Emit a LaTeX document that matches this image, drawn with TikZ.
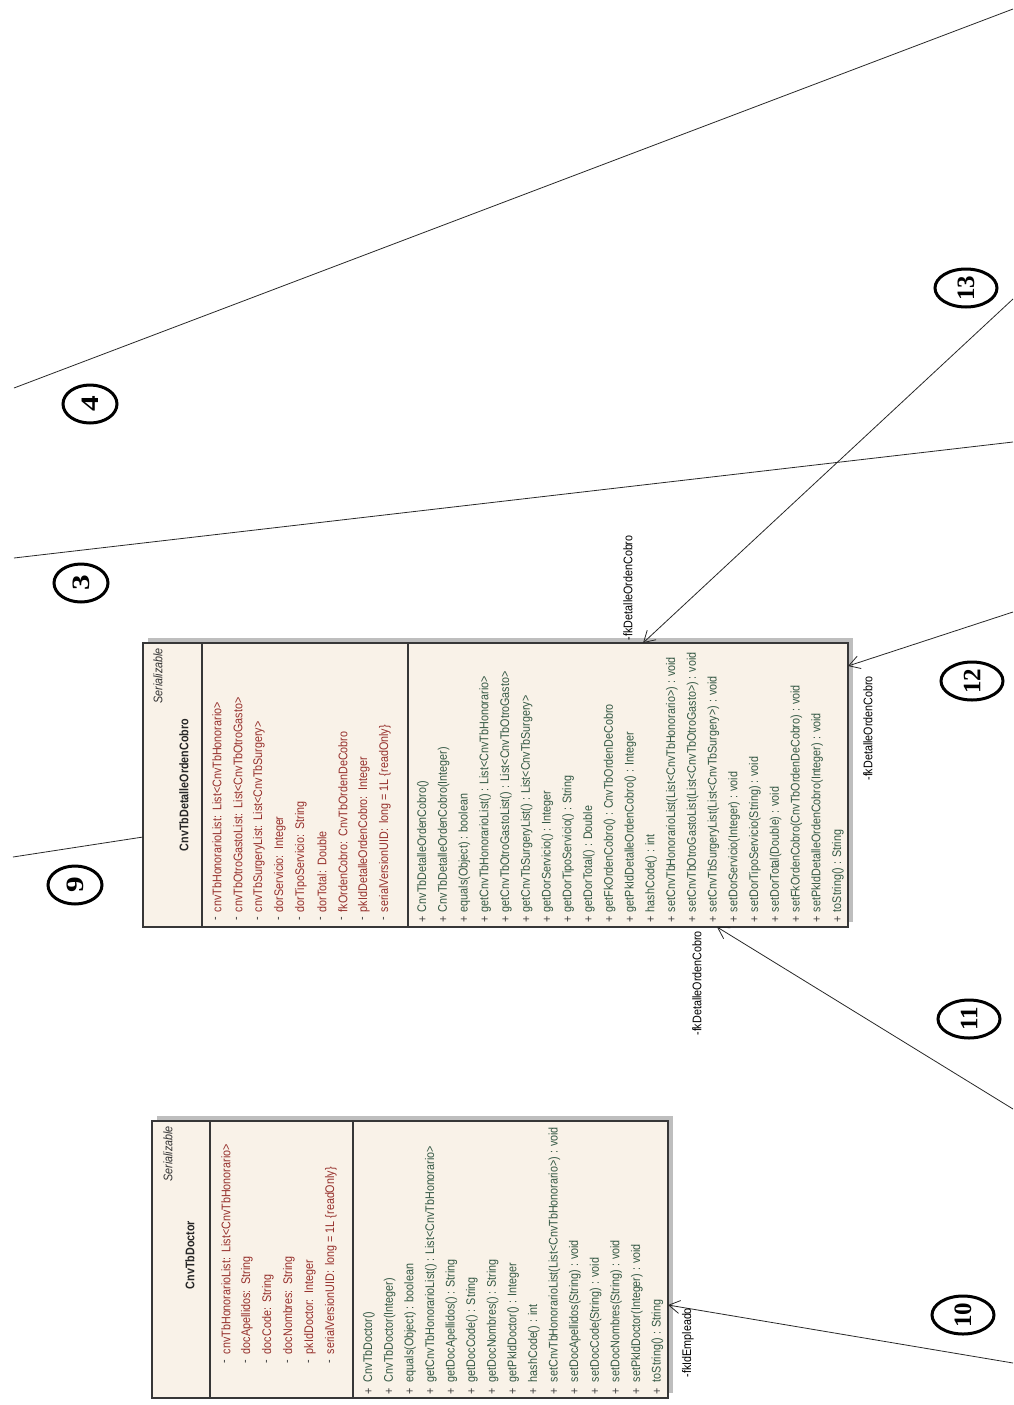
\documentclass[tikz,border=0pt]{standalone}
\usepackage{fontspec}
\setmainfont{Liberation Sans}
\newfontfamily\digitfont{Liberation Serif}
\usetikzlibrary{arrows.meta,calc,shapes.geometric}
\definecolor{boxfill}{RGB}{249,242,232}
\definecolor{attrcol}{RGB}{150,48,44}
\definecolor{methcol}{RGB}{52,88,68}
\definecolor{edgecol}{RGB}{55,55,55}
\definecolor{shadowcol}{RGB}{190,190,190}
\definecolor{linecol}{RGB}{40,40,40}
\tikzset{
  classbox/.style={draw=edgecol, line width=1.3pt, fill=boxfill, inner sep=0pt, outer sep=0pt},
  sepline/.style={draw=edgecol, line width=1.3pt},
  vtext/.style={rotate=90, xscale=0.86, inner sep=0pt, outer sep=0pt, font=\fontsize{12.5}{14}\selectfont},
  attr/.style={vtext, anchor=west, text=attrcol},
  meth/.style={vtext, anchor=west, text=methcol},
  vismark/.style={vtext, anchor=center, text=black!75},
  cname/.style={vtext, anchor=center, font=\bfseries\fontsize{12.5}{14}\selectfont, text=black!85},
  stereo/.style={vtext, anchor=east, font=\itshape\fontsize{12.5}{14}\selectfont, text=black!80},
  elabel/.style={vtext, text=black},
  conn/.style={draw=linecol, line width=0.8pt},
  navarrow/.style={conn, -{Straight Barb[length=11pt,width=13pt,line width=0.8pt]}},
  numcirc/.style={ellipse, draw=black, line width=3pt, fill=white, inner sep=0pt, minimum height=38pt},
  numtxt/.style={rotate=90, inner sep=0pt, font=\digitfont\bfseries\fontsize{25}{25}\selectfont},
}
\begin{document}
\begin{tikzpicture}[x=1pt,y=-1pt]
\useasboundingbox (0,0) rectangle (1013,1405);
\fill[white] (0,0) rectangle (1013,1405);

% ---------- CnvTbDetalleOrdenCobro ----------
\fill[shadowcol] (148,638) rectangle (853,922);
\node[classbox, minimum width=705pt, minimum height=284pt] (det) at (495.5,785) {};
\draw[sepline] (202,643) -- (202,927);
\draw[sepline] (408,643) -- (408,927);
\node[stereo] (detst) at (158,648) {Serializable};
\node[cname] (detname) at (184,785) {CnvTbDetalleOrdenCobro};
\foreach \t [count=\i from 0] in {
 {cnvTbHonorarioList:\hspace{.5em}List<CnvTbHonorario>},
 {cnvTbOtroGastoList:\hspace{.5em}List<CnvTbOtroGasto>},
 {cnvTbSurgeryList:\hspace{.5em}List<CnvTbSurgery>},
 {dorServicio:\hspace{.5em}Integer},
 {dorTipoServicio:\hspace{.5em}String},
 {dorTotal:\hspace{.5em}Double},
 {fkOrdenCobro:\hspace{.5em}CnvTbOrdenDeCobro},
 {pkIdDetalleOrdenCobro:\hspace{.5em}Integer},
 {serialVersionUID:\hspace{.5em}long = 1L \{readOnly\}}}{
  \node[attr] (da\i) at (217+21*\i,912) {\t};
  \node[vismark] (dam\i) at (217+21*\i,919) {-};
}
\foreach \t [count=\i from 0] in {
 {CnvTbDetalleOrdenCobro()},
 {CnvTbDetalleOrdenCobro(Integer)},
 {equals(Object) : boolean},
 {getCnvTbHonorarioList() : List<CnvTbHonorario>},
 {getCnvTbOtroGastoList() : List<CnvTbOtroGasto>},
 {getCnvTbSurgeryList() : List<CnvTbSurgery>},
 {getDorServicio() : Integer},
 {getDorTipoServicio() : String},
 {getDorTotal() : Double},
 {getFkOrdenCobro() : CnvTbOrdenDeCobro},
 {getPkIdDetalleOrdenCobro() : Integer},
 {hashCode() : int},
 {setCnvTbHonorarioList(List<CnvTbHonorario>) : void},
 {setCnvTbOtroGastoList(List<CnvTbOtroGasto>) : void},
 {setCnvTbSurgeryList(List<CnvTbSurgery>) : void},
 {setDorServicio(Integer) : void},
 {setDorTipoServicio(String) : void},
 {setDorTotal(Double) : void},
 {setFkOrdenCobro(CnvTbOrdenDeCobro) : void},
 {setPkIdDetalleOrdenCobro(Integer) : void},
 {toString() : String}}{
  \node[meth] (dm\i) at (423+20.75*\i,912) {\t};
  \node[vismark] (dmm\i) at (423+20.75*\i,919) {+};
}

% ---------- CnvTbDoctor ----------
\fill[shadowcol] (157,1116) rectangle (673,1393);
\node[classbox, minimum width=516pt, minimum height=277pt] (doc) at (410,1259.5) {};
\draw[sepline] (210,1121) -- (210,1398);
\draw[sepline] (353,1121) -- (353,1398);
\node[stereo] (docst) at (168,1126) {Serializable};
\node[cname] (docname) at (190,1255) {CnvTbDoctor};
\foreach \t [count=\i from 0] in {
 {cnvTbHonorarioList:\hspace{.5em}List<CnvTbHonorario>},
 {docApellidos:\hspace{.5em}String},
 {docCode:\hspace{.5em}String},
 {docNombres:\hspace{.5em}String},
 {pkIdDoctor:\hspace{.5em}Integer},
 {serialVersionUID:\hspace{.5em}long = 1L \{readOnly\}}}{
  \node[attr] (oa\i) at (226+21*\i,1354) {\t};
  \node[vismark] (oam\i) at (226+21*\i,1362) {-};
}
\foreach \t [count=\i from 0] in {
 {CnvTbDoctor()},
 {CnvTbDoctor(Integer)},
 {equals(Object) : boolean},
 {getCnvTbHonorarioList() : List<CnvTbHonorario>},
 {getDocApellidos() : String},
 {getDocCode() : String},
 {getDocNombres() : String},
 {getPkIdDoctor() : Integer},
 {hashCode() : int},
 {setCnvTbHonorarioList(List<CnvTbHonorario>) : void},
 {setDocApellidos(String) : void},
 {setDocCode(String) : void},
 {setDocNombres(String) : void},
 {setPkIdDoctor(Integer) : void},
 {toString() : String}}{
  \node[meth] (om\i) at (369+20.6*\i,1382) {\t};
  \node[vismark] (omm\i) at (369+20.6*\i,1391) {+};
}

% ---------- connector end points ----------
\coordinate (e4a) at (14,388);
\coordinate (e4b) at (1013,9);
\coordinate (e3a) at (14,558);
\coordinate (e3b) at (1013,442);
\coordinate (e9) at (13,857);
\coordinate (a9) at ($(det.north west)+(0,194)$);
\coordinate (e13) at (1013,299);
\coordinate (a13) at ($(det.north west)+(500,0)$);
\coordinate (e12) at (1013,612);
\coordinate (a12) at ($(det.north east)+(0,23)$);
\coordinate (e11) at (1013,1109);
\coordinate (a11) at ($(det.south west)+(574,0)$);
\coordinate (e10) at (1013,1363);
\coordinate (a10) at ($(doc.north east)+(0,184)$);

\draw[conn] (e4a) -- (e4b);
\draw[conn] (e3a) -- (e3b);
\draw[conn] (e9) -- (a9);
\draw[navarrow] (e13) -- (a13);
\draw[navarrow] (e12) -- (a12);
\draw[navarrow] (e11) -- (a11);
\draw[navarrow] (e10) -- (a10);

% ---------- role labels ----------
\node[elabel, anchor=west] (l13) at (628,640) {-fkDetalleOrdenCobro};
\node[elabel, anchor=east] (l12) at (868,676) {-fkDetalleOrdenCobro};
\node[elabel, anchor=east] (l11) at (697,931) {-fkDetalleOrdenCobro};
\node[elabel, anchor=east] (l10) at (688,1308) {-fkIdEmpleado};

% ---------- numbered markers ----------
\node[numcirc, minimum width=54pt] (c4) at (90,404) {};
\node[numtxt, xscale=1.25] (t4) at (c4) {4};
\node[numcirc, minimum width=54pt] (c3) at (81,583) {};
\node[numtxt, xscale=1.25] (t3) at (c3) {3};
\node[numcirc, minimum width=54pt] (c9) at (75,885) {};
\node[numtxt, xscale=1.25] (t9) at (c9) {9};
\node[numcirc, minimum width=62pt] (c13) at (966,288) {};
\node[numtxt] (t13) at (c13) {13};
\node[numcirc, minimum width=62pt] (c12) at (972,681) {};
\node[numtxt] (t12) at (c12) {12};
\node[numcirc, minimum width=62pt] (c11) at (969,1019) {};
\node[numtxt] (t11) at (c11) {11};
\node[numcirc, minimum width=62pt] (c10) at (963,1315) {};
\node[numtxt] (t10) at (c10) {10};
\end{tikzpicture}
\end{document}
